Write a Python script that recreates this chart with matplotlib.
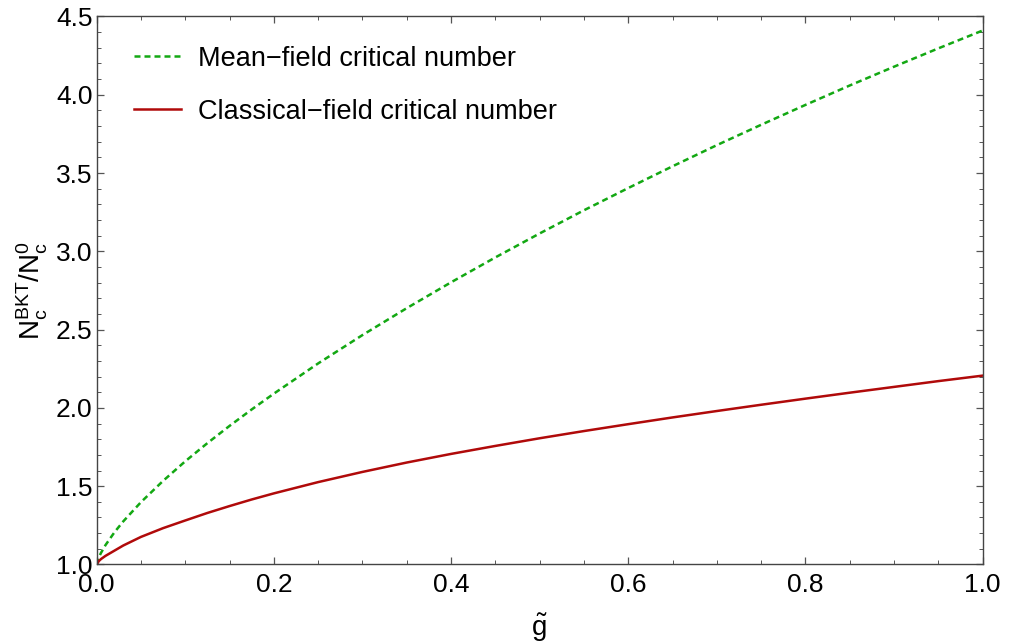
import numpy as np
import matplotlib
matplotlib.use("Agg")
import matplotlib.pyplot as plt
from matplotlib.ticker import MultipleLocator, FormatStrFormatter

plt.rcParams['font.family'] = ['Liberation Sans', 'DejaVu Sans']
plt.rcParams['mathtext.fontset'] = 'custom'
plt.rcParams['mathtext.rm'] = 'Liberation Sans'
plt.rcParams['mathtext.it'] = 'Liberation Sans'

# interaction strength g~
g = [0.0, 0.0025, 0.005, 0.01, 0.02, 0.03, 0.05, 0.075, 0.1, 0.125, 0.15, 0.175, 0.2,
     0.25, 0.3, 0.35, 0.4, 0.45, 0.5, 0.55, 0.6, 0.65, 0.7, 0.75, 0.8, 0.85, 0.9,
     0.95, 1.0]
# critical number ratio, mean-field
mean_field = [1.0, 1.046, 1.075, 1.124, 1.205, 1.275, 1.398, 1.534, 1.659, 1.775,
              1.885, 1.990, 2.091, 2.284, 2.465, 2.637, 2.802, 2.961, 3.114, 3.262,
              3.404, 3.543, 3.678, 3.808, 3.935, 4.059, 4.179, 4.296, 4.41]
# critical number ratio, classical field
classical = [1.0, 1.022, 1.035, 1.055, 1.088, 1.121, 1.176, 1.232, 1.281, 1.329,
             1.373, 1.415, 1.454, 1.526, 1.591, 1.651, 1.706, 1.757, 1.806, 1.852,
             1.896, 1.939, 1.980, 2.020, 2.059, 2.097, 2.134, 2.171, 2.206]

fig = plt.figure(figsize=(10.09, 6.44), dpi=100)
ax = fig.add_axes([0.0958, 0.1235, 0.8781, 0.851])

ax.plot(g, mean_field, color='#13a813', lw=1.8, dashes=(2.4, 1.6),
        label='Mean\u2212field critical number')
ax.plot(g, classical, color='#b00a0a', lw=1.8,
        label='Classical\u2212field critical number')

ax.set_xlim(0, 1)
ax.set_ylim(1.0, 4.5)
ax.xaxis.set_major_locator(MultipleLocator(0.2))
ax.xaxis.set_minor_locator(MultipleLocator(0.05))
ax.yaxis.set_major_locator(MultipleLocator(0.5))
ax.yaxis.set_minor_locator(MultipleLocator(0.1))
ax.xaxis.set_major_formatter(FormatStrFormatter('%.1f'))
ax.yaxis.set_major_formatter(FormatStrFormatter('%.1f'))

for s in ax.spines.values():
    s.set_color('#444444')
    s.set_linewidth(1.0)
ax.tick_params(which='both', direction='in', top=True, right=True,
               color='#555555', labelsize=19, labelcolor='black')
ax.tick_params(which='major', length=5, width=0.9)
ax.tick_params(which='minor', length=3, width=0.7)
ax.tick_params(axis='x', pad=6)
ax.tick_params(axis='y', pad=3)

ax.set_xlabel(r'$\tilde{\mathrm{g}}$', fontsize=20, labelpad=11)
ax.set_ylabel(r'$\mathrm{N_c^{BKT}/N_c^0}$', fontsize=20, labelpad=4)

ax.legend(loc='upper left', frameon=False, fontsize=19.5, handlelength=1.75,
          handletextpad=0.6, labelspacing=1.0, borderaxespad=0.0,
          bbox_to_anchor=(0.03, 0.966))

fig.savefig('out.png', dpi=100)
